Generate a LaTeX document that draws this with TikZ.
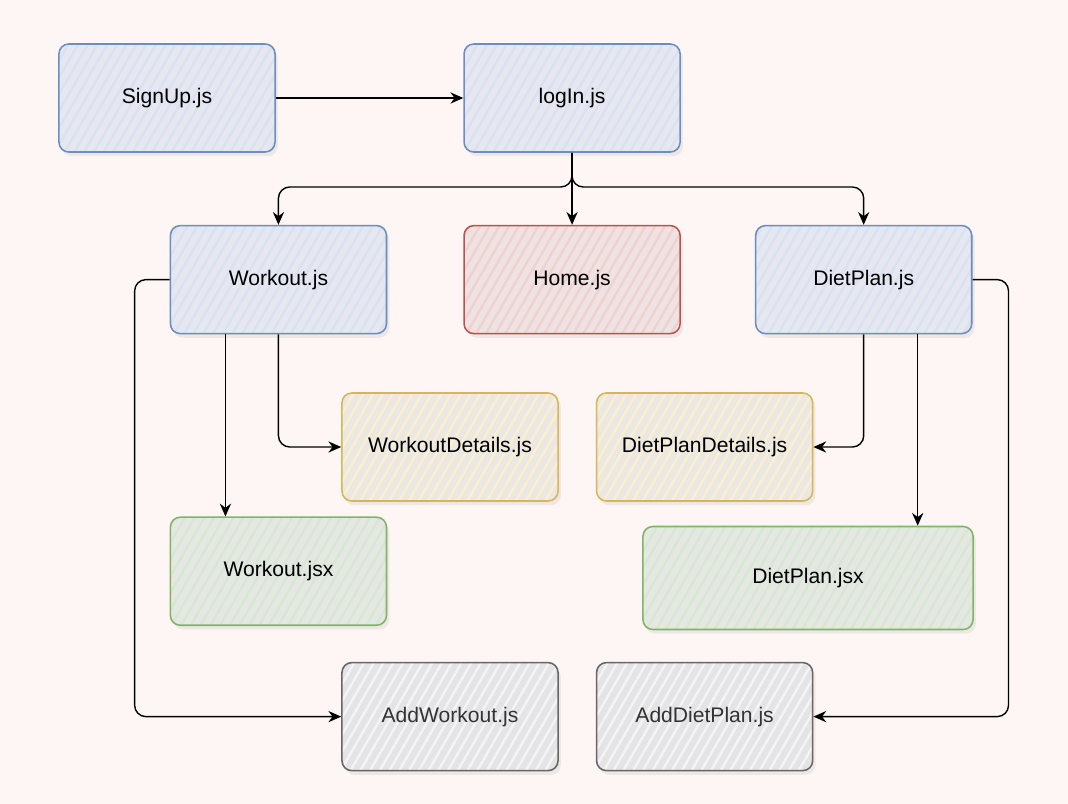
\documentclass[tikz,border=0pt]{standalone}
\usepackage{fontspec}
\setmainfont{Liberation Sans}
\usetikzlibrary{positioning, arrows.meta, calc, patterns.meta, shadows}

\definecolor{bgpink}{HTML}{FDF6F4}
\definecolor{bluedraw}{HTML}{6C8EBF}
\definecolor{bluebase}{HTML}{E6E7EF}
\definecolor{bluehatch}{HTML}{D9E2F3}
\definecolor{reddraw}{HTML}{B85450}
\definecolor{redbase}{HTML}{EDE3E3}
\definecolor{redhatch}{HTML}{F2D0CE}
\definecolor{yellowdraw}{HTML}{D6B656}
\definecolor{yellowbase}{HTML}{EBE8E4}
\definecolor{yellowhatch}{HTML}{FAF0CF}
\definecolor{greendraw}{HTML}{82B366}
\definecolor{greenbase}{HTML}{E5E7E3}
\definecolor{greenhatch}{HTML}{D6E7D2}
\definecolor{graydraw}{HTML}{666666}
\definecolor{graybase}{HTML}{E4E4E6}
\definecolor{grayhatch}{HTML}{F4F4F4}
\definecolor{textgray}{HTML}{333333}

\begin{document}
\begin{tikzpicture}[
    x=0.025cm, y=-0.025cm,
    block/.style={rectangle, rounded corners=7pt, line width=1.1pt,
                  minimum height=2.7cm, minimum width=5.4cm,
                  font=\fontsize{15}{18}\selectfont,
                  drop shadow={shadow xshift=2pt, shadow yshift=-3pt, opacity=0.12},
                  pattern={Lines[angle=60, distance=6pt, line width=1.7pt]}},
    bblock/.style={block, draw=bluedraw, preaction={fill=bluebase}, pattern color=bluehatch},
    rblock/.style={block, draw=reddraw, preaction={fill=redbase}, pattern color=redhatch},
    yblock/.style={block, draw=yellowdraw, preaction={fill=yellowbase}, pattern color=yellowhatch},
    gblock/.style={block, draw=greendraw, preaction={fill=greenbase}, pattern color=greenhatch},
    kblock/.style={block, draw=graydraw, preaction={fill=graybase}, pattern color=grayhatch,
                  text=textgray},
    arr/.style={-{Stealth[length=3.2mm, width=2.8mm]}, line width=1pt, rounded corners=8pt},
]
\fill[bgpink] (0,0) rectangle (1068,804);

\node[bblock] (signup) at (167,98) {SignUp.js};
\node[bblock, right=4.675cm of signup] (login) {logIn.js};
\node[rblock, below=1.8cm of login] (home) {Home.js};
\node[bblock, left=1.9cm of home] (workout) {Workout.js};
\node[bblock, right=1.85cm of home] (dietplan) {DietPlan.js};
\node[yblock] (wdetails) at (450,447) {WorkoutDetails.js};
\node[yblock, right=0.925cm of wdetails] (ddetails) {DietPlanDetails.js};
\node[gblock, below=4.55cm of workout] (wjsx) {Workout.jsx};
\node[gblock, minimum width=8.25cm, minimum height=2.575cm] (djsx) at (808,578) {DietPlan.jsx};
\node[kblock, below=4cm of wdetails] (addworkout) {AddWorkout.js};
\node[kblock, below=4cm of ddetails] (adddiet) {AddDietPlan.js};

\coordinate (split) at (572,187);

\draw[arr] (signup) -- (login);
\draw[arr] (login) -- (split) -| (workout);
\draw[arr] (login) -- (home);
\draw[arr] (login) -- (split) -| (dietplan);
\draw[arr] ([xshift=-1.325cm]workout.south) -- ([xshift=-1.325cm]wjsx.north);
\draw[arr] (workout) |- (wdetails);
\draw[arr] (workout.west) -- ++(-35,0) |- (addworkout);
\draw[arr] (dietplan) |- (ddetails);
\draw[arr] ([xshift=1.35cm]dietplan.south) -- ([xshift=1.35cm]dietplan.south |- djsx.north);
\draw[arr] (dietplan.east) -- ++(36,0) |- (adddiet);
\end{tikzpicture}
\end{document}
